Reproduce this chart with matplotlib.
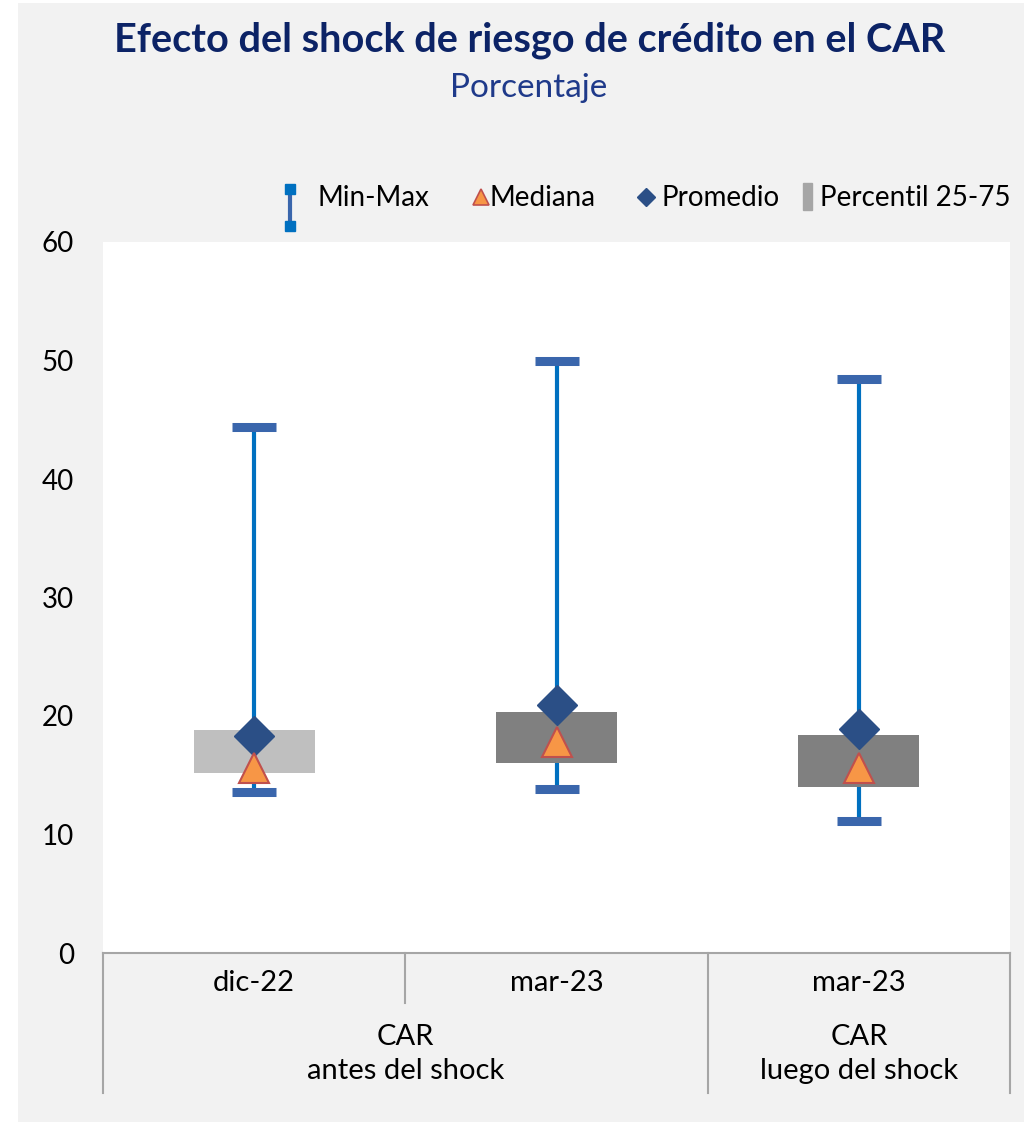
import numpy as np
import matplotlib.pyplot as plt
from matplotlib.lines import Line2D
from matplotlib.patches import Rectangle
import matplotlib.transforms as mtransforms

plt.rcParams['font.family'] = ['Lato', 'DejaVu Sans']

# data
periods = ["dic-22", "mar-23", "mar-23"]
groups = ["CAR\nantes del shock", "CAR\nluego del shock"]
mins = [13.6, 13.8, 11.1]
maxs = [44.4, 50.0, 48.4]
p25 = [15.2, 16.0, 14.0]
p75 = [18.8, 20.3, 18.4]
medians = [15.6, 17.8, 15.6]
means = [18.3, 20.9, 18.9]
box_colors = ["#BFBFBF", "#808080", "#808080"]

W, H = 1024, 1122
fig = plt.figure(figsize=(W / 100, H / 100), dpi=100, facecolor="white")
fig.add_artist(Rectangle((18 / W, 0), 1, 1 - 3 / H, transform=fig.transFigure,
                         facecolor="#F2F2F2", edgecolor="none", zorder=-10))

ax = fig.add_axes([103 / W, 1 - 953 / H, (1010 - 103) / W, (953 - 242) / H])
ax.set_facecolor("white")

x = np.arange(len(periods))

# whiskers
ax.vlines(x, mins, maxs, color="#0070C0", linewidth=3, zorder=2)
# percentile boxes
ax.bar(x, np.array(p75) - np.array(p25), bottom=p25, width=0.4,
       color=box_colors, zorder=3)
# caps
ax.plot(x, mins, linestyle="none", marker="_", markersize=31, mew=6.5,
        color="#3A66AC", zorder=4)
ax.plot(x, maxs, linestyle="none", marker="_", markersize=31, mew=6.5,
        color="#3A66AC", zorder=4)
# mean and median
ax.plot(x, means, linestyle="none", marker="D", markersize=20,
        color="#2B4F86", mec="#2B4F86", zorder=5)
ax.plot(x, medians, linestyle="none", marker="^", markersize=22, mew=1.5,
        color="#F79646", mec="#C0504D", zorder=6)

ax.set_xlim(-0.5, 2.5)
ax.set_ylim(0, 60)
ax.set_yticks(np.arange(0, 61, 10))
ax.tick_params(axis="y", length=0, pad=21, labelsize=20)
ax.set_xticks([])
for s in ["left", "right", "top"]:
    ax.spines[s].set_visible(False)
ax.spines["bottom"].set_color("#A6A6A6")
ax.spines["bottom"].set_linewidth(1.5)

# category axis below
trans = mtransforms.blended_transform_factory(ax.transData, ax.transAxes)
short = -50 / 711
long_ = -140 / 711
for xb, yb in [(-0.5, long_), (0.5, short), (1.5, long_), (2.5, long_)]:
    ax.add_line(Line2D([xb, xb], [0, yb], transform=trans, color="#A6A6A6",
                       linewidth=1.5, clip_on=False))
for xi, lab in zip(x, periods):
    ax.text(xi, -30 / 711, lab, transform=trans, ha="center", va="center",
            fontsize=21)
ax.text(0.5, -101 / 711, groups[0], transform=trans, ha="center", va="center",
        fontsize=21, linespacing=1.4)
ax.text(2.0, -101 / 711, groups[1], transform=trans, ha="center", va="center",
        fontsize=21, linespacing=1.4)

# titles
fig.text(530 / W, 1 - 40 / H, "Efecto del shock de riesgo de crédito en el CAR",
         ha="center", va="center", fontsize=28.5, fontweight="bold", color="#0C2366")
fig.text(529 / W, 1 - 88 / H, "Porcentaje", ha="center", va="center",
         fontsize=24, color="#1F3A8A")

# legend drawn by hand
def fx(px):
    return px / W


def fy(py):
    return 1 - py / H


fig.add_artist(Line2D([fx(290), fx(290)], [fy(189), fy(226)], color="#3A66AC",
                      linewidth=3, transform=fig.transFigure))
fig.add_artist(Line2D([fx(290), fx(290)], [fy(189), fy(226)], linestyle="none",
                      marker="s", markersize=7, color="#0070C0",
                      transform=fig.transFigure))
fig.add_artist(Line2D([fx(481)], [fy(197)], linestyle="none", marker="^",
                      markersize=12, mew=1.2, color="#F79646", mec="#C0504D",
                      transform=fig.transFigure))
fig.add_artist(Line2D([fx(646)], [fy(197)], linestyle="none", marker="D",
                      markersize=9, color="#2B4F86", transform=fig.transFigure))
fig.add_artist(Rectangle((fx(803), fy(210)), 9 / W, 27 / H, color="#A6A6A6",
                         transform=fig.transFigure))
for px, lab in [(318, "Min-Max"), (490, "Mediana"), (662, "Promedio"),
                (820, "Percentil 25-75")]:
    fig.text(fx(px), fy(198), lab, ha="left", va="center", fontsize=20)

fig.savefig("out.png", dpi=100, facecolor=fig.get_facecolor())
